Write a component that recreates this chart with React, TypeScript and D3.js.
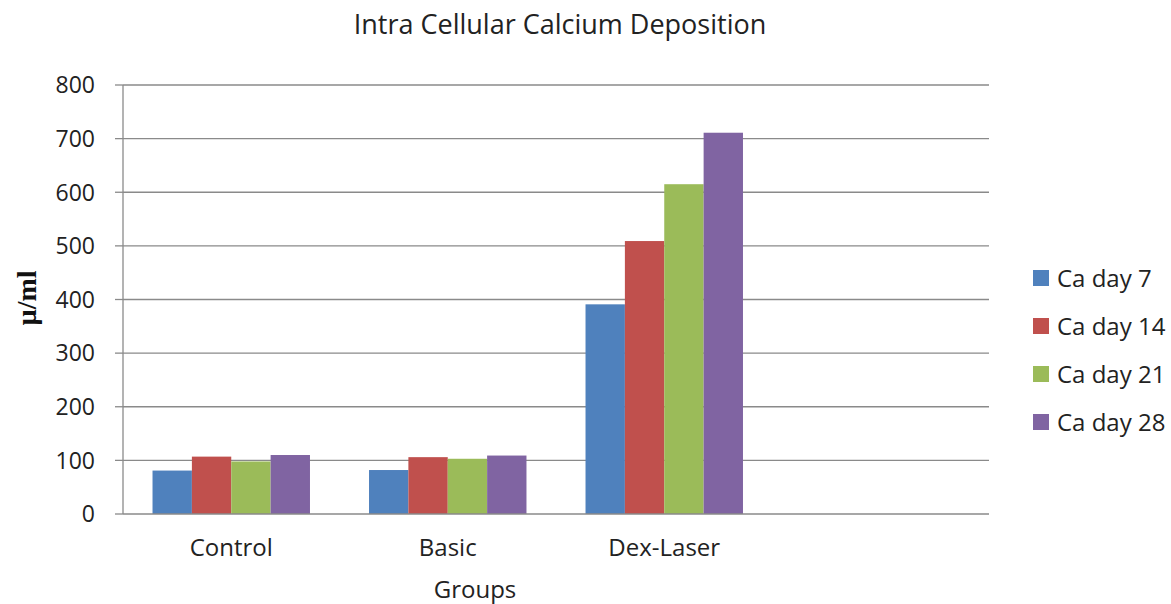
import React from "react";
import * as d3 from "d3";

const categories = ["Control", "Basic", "Dex-Laser", ""];
const seriesNames = ["Ca day 7", "Ca day 14", "Ca day 21", "Ca day 28"];
const day7 = [81, 82, 391, null];
const day14 = [107, 106, 509, null];
const day21 = [98, 103, 615, null];
const day28 = [110, 109, 711, null];
const colors = ["#4F81BD", "#C0504D", "#9BBB59", "#8064A2"];
const yTicks = [0, 100, 200, 300, 400, 500, 600, 700, 800];

const W = 1171;
const H = 604;
const M = { left: 123, right: 989, top: 85, bottom: 514 };
const FONT = "'Open Sans', 'Noto Sans', sans-serif";

export default function App() {
  const series = [day7, day14, day21, day28];
  const x0 = d3.scaleBand().domain(categories.map((c, i) => String(i))).range([M.left, M.right]).paddingInner(0).paddingOuter(0);
  const bw = x0.bandwidth() / 5.5;
  const y = d3.scaleLinear().domain([0, 800]).range([M.bottom, M.top]);

  return (
    <svg width={W} height={H} style={{ position: "absolute", left: 0, top: 0, background: "#fff" }} fontFamily={FONT}>
      <rect x={0} y={0} width={W} height={H} fill="#fff" />
      <text x={560} y={34} textAnchor="middle" fontSize={27} fill="#222">
        Intra Cellular Calcium Deposition
      </text>
      {yTicks.map((t) => (
        <g key={t}>
          {t > 0 && <line x1={M.left} x2={M.right} y1={y(t)} y2={y(t)} stroke="#8a8a8a" strokeWidth={1.3} />}
          <line x1={M.left - 8} x2={M.left} y1={y(t)} y2={y(t)} stroke="#8a8a8a" strokeWidth={1.3} />
          <text x={95} y={y(t)} dy="0.36em" textAnchor="end" fontSize={23} fill="#222">
            {t}
          </text>
        </g>
      ))}
      {categories.map((c, ci) =>
        series.map((s, si) => {
          const v = s[ci];
          if (v == null) return null;
          const bx = (x0(String(ci)) as number) + bw * 0.75 + si * bw;
          return <rect key={ci + "-" + si} x={bx} y={y(v)} width={bw} height={y(0) - y(v)} fill={colors[si]} />;
        })
      )}
      <line x1={M.left} x2={M.left} y1={M.top} y2={M.bottom} stroke="#8a8a8a" strokeWidth={1.3} />
      <line x1={M.left} x2={M.right} y1={M.bottom} y2={M.bottom} stroke="#8a8a8a" strokeWidth={1.3} />
      {categories.map((c, ci) => (
        <text key={c + ci} x={(x0(String(ci)) as number) + x0.bandwidth() / 2} y={556} textAnchor="middle" fontSize={24} fill="#222">
          {c}
        </text>
      ))}
      <text x={475} y={598} textAnchor="middle" fontSize={24} fill="#222">
        Groups
      </text>
      <text transform="translate(36,298) rotate(-90)" textAnchor="middle" fontSize={28} fontWeight="bold" fontFamily="'Liberation Serif', 'DejaVu Serif', serif" fill="#111">
        µ/ml
      </text>
      {seriesNames.map((n, i) => (
        <g key={n} transform={`translate(1033,${278 + i * 48})`}>
          <rect x={0} y={-8} width={16} height={16} fill={colors[i]} />
          <text x={24} y={0} dy="0.36em" fontSize={24} fill="#222">
            {n}
          </text>
        </g>
      ))}
    </svg>
  );
}
